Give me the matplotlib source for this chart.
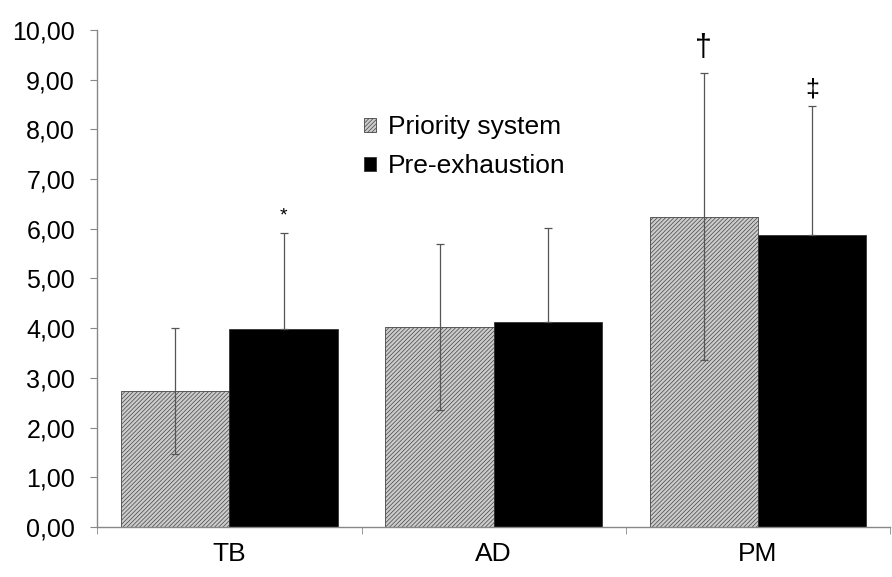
import matplotlib
matplotlib.use('Agg')
import matplotlib.pyplot as plt
import numpy as np

# values
muscles = ['TB', 'AD', 'PM']
priority_mean = [2.74, 4.02, 6.24]
priority_sd = [1.27, 1.67, 2.89]
preexh_mean = [3.98, 4.12, 5.87]
preexh_sd = [1.94, 1.90, 2.60]
y_ticks = [0, 1, 2, 3, 4, 5, 6, 7, 8, 9, 10]

# significance marks: (symbol, group, series, y position, size)
marks = [('*', 0, 1, 6.25, 14), ('\u2020', 2, 0, 9.64, 22), ('\u2021', 2, 1, 8.8, 18)]

plt.rcParams['font.family'] = ['Liberation Sans', 'DejaVu Sans']
plt.rcParams['hatch.linewidth'] = 0.5

fig = plt.figure(figsize=(8.92, 5.77), dpi=100)
ax = fig.add_axes([0.109, 0.0867, 0.889, 0.8613])

x = np.arange(len(muscles))
w = 0.41
grey_axis = '#888888'
err_col = '#555555'

ax.bar(x - w / 2, priority_mean, w, color='#cccccc', edgecolor='#444444',
       hatch='////////', linewidth=0.6, label='Priority system', zorder=2)
ax.bar(x + w / 2, preexh_mean, w, color='black', edgecolor='#333333',
       linewidth=0.6, label='Pre-exhaustion', zorder=2)

ax.errorbar(x - w / 2, priority_mean, yerr=priority_sd, fmt='none',
            ecolor=err_col, elinewidth=0.9, capsize=3, capthick=0.9, zorder=3)
ax.errorbar(x + w / 2, preexh_mean, yerr=[np.zeros(3), preexh_sd], fmt='none',
            ecolor=err_col, elinewidth=0.9, capsize=3, capthick=0.9, zorder=3)

for sym, g, s, yy, fs in marks:
    xx = x[g] - w / 2 if s == 0 else x[g] + w / 2
    ax.text(xx, yy, sym, ha='center', va='center', fontsize=fs)

ax.set_xlim(-0.5, 2.5)
ax.set_ylim(0, 10)
ax.set_yticks(y_ticks)
ax.set_yticklabels([f'{v:.2f}'.replace('.', ',') for v in y_ticks], fontsize=18)
ax.set_xticks(x)
ax.set_xticklabels(muscles, fontsize=19)
ax.set_xticks([-0.5, 0.5, 1.5, 2.5], minor=True)
ax.tick_params(axis='x', which='major', length=0, pad=11)
ax.tick_params(axis='x', which='minor', length=5, color=grey_axis, direction='out')
ax.tick_params(axis='y', length=5, color=grey_axis, pad=11)

for side in ['top', 'right']:
    ax.spines[side].set_visible(False)
for side in ['left', 'bottom']:
    ax.spines[side].set_color(grey_axis)
    ax.spines[side].set_linewidth(1.0)

ax.legend(loc='upper left', bbox_to_anchor=(364 / 892, 1 - 115 / 577),
          bbox_transform=fig.transFigure, frameon=False, fontsize=19,
          handlelength=0.45, handleheight=0.45, handletextpad=0.45,
          labelspacing=0.58, borderaxespad=0, borderpad=0)

fig.savefig('out.png', dpi=100)
